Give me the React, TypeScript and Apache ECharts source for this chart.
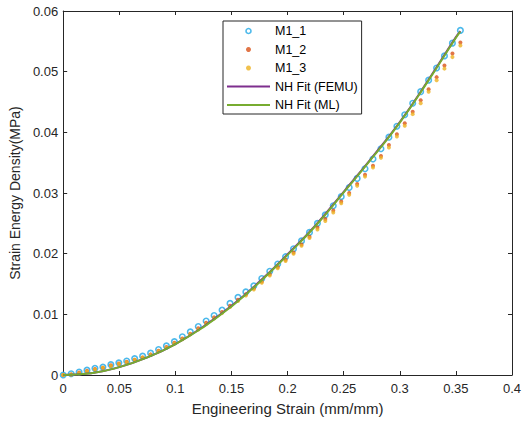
import React, { useEffect, useRef } from "react";
import * as echarts from "echarts";

const strain = [
  0.0, 0.0071, 0.0142, 0.0212, 0.0283, 0.0354, 0.0425, 0.0496, 0.0566, 0.0637,
  0.0708, 0.0779, 0.085, 0.092, 0.0991, 0.1062, 0.1133, 0.1204, 0.1274, 0.1345,
  0.1416, 0.1487, 0.1558, 0.1628, 0.1699, 0.177, 0.1841, 0.1912, 0.1982, 0.2053,
  0.2124, 0.2195, 0.2266, 0.2336, 0.2407, 0.2478, 0.2549, 0.262, 0.269, 0.2761,
  0.2832, 0.2903, 0.2974, 0.3044, 0.3115, 0.3186, 0.3257, 0.3328, 0.3398, 0.3469,
  0.354,
];

const m1_1 = [
  0.0, 0.0002, 0.0005, 0.0008, 0.0011, 0.0013, 0.0017, 0.002, 0.0023, 0.0027,
  0.0031, 0.0036, 0.0042, 0.0048, 0.0055, 0.0063, 0.0071, 0.008, 0.0089, 0.0098,
  0.0107, 0.0118, 0.0128, 0.0137, 0.0147, 0.0159, 0.0171, 0.0183, 0.0195, 0.0208,
  0.0221, 0.0235, 0.025, 0.0264, 0.0279, 0.0294, 0.0309, 0.0324, 0.034, 0.0356,
  0.0373, 0.0392, 0.041, 0.0429, 0.0448, 0.0467, 0.0486, 0.0506, 0.0526, 0.0547,
  0.0568,
];

const m1_2 = [
  0.0, 0.0001, 0.0004, 0.0007, 0.001, 0.0012, 0.0016, 0.0019, 0.0022, 0.0025,
  0.0029, 0.0034, 0.004, 0.0046, 0.0053, 0.006, 0.0068, 0.0077, 0.0086, 0.0095,
  0.0104, 0.0114, 0.0124, 0.0133, 0.0143, 0.0154, 0.0166, 0.0178, 0.019, 0.0202,
  0.0215, 0.0228, 0.0243, 0.0257, 0.0271, 0.0286, 0.03, 0.0315, 0.033, 0.0345,
  0.0361, 0.0379, 0.0397, 0.0415, 0.0434, 0.0453, 0.0471, 0.0491, 0.051, 0.053,
  0.0548,
];

const m1_3 = [
  0.0, 0.0001, 0.0003, 0.0006, 0.0009, 0.0012, 0.0015, 0.0018, 0.0021, 0.0025,
  0.0029, 0.0033, 0.0039, 0.0045, 0.0052, 0.0059, 0.0067, 0.0075, 0.0084, 0.0093,
  0.0102, 0.0112, 0.0122, 0.0131, 0.0141, 0.0152, 0.0164, 0.0176, 0.0188, 0.02,
  0.0213, 0.0226, 0.024, 0.0254, 0.0268, 0.0283, 0.0297, 0.0312, 0.0327, 0.0342,
  0.0358, 0.0375, 0.0393, 0.0411, 0.043, 0.0448, 0.0467, 0.0486, 0.0505, 0.0524,
  0.0543,
];

const fitStrain = [
  0.0, 0.025, 0.05, 0.075, 0.1, 0.125, 0.15, 0.175, 0.2, 0.225, 0.25, 0.275,
  0.3, 0.325, 0.35, 0.354,
];
const fitFEMU = [
  0.0, 0.0003, 0.0013, 0.0029, 0.0051, 0.008, 0.0114, 0.0154, 0.0199, 0.0247,
  0.0302, 0.0358, 0.0417, 0.0485, 0.0557, 0.0567,
];
const fitML = [
  0.0, 0.0003, 0.0013, 0.0029, 0.0051, 0.0079, 0.0113, 0.0153, 0.0198, 0.0246,
  0.0301, 0.0357, 0.0416, 0.0484, 0.0556, 0.0566,
];

const xTicks = { min: 0, max: 0.4, interval: 0.05 };
const yTicks = { min: 0, max: 0.06, interval: 0.01 };

const seriesNames = ["M1_1", "M1_2", "M1_3", "NH Fit (FEMU)", "NH Fit (ML)"];
const xTitle = "Engineering Strain (mm/mm)";
const yTitle = "Strain Energy Density(MPa)";

const C_BLUE = "#1FA8E6";
const C_RED = "#D95319";
const C_YEL = "#EDB120";
const C_PUR = "#7E2F8E";
const C_GRN = "#77AC30";
const AXIS = "#262626";
const FONT = "'Liberation Sans', Arial, Helvetica, sans-serif";
const LINE_ICON = "path://M0,0 L45,0 L45,2 L0,2 Z";

function pairs(xs: number[], ys: number[]) {
  return xs.map((x, i) => [x, ys[i]]);
}

export default function App() {
  const ref = useRef<HTMLDivElement>(null);
  useEffect(() => {
    if (!ref.current) return;
    const chart = echarts.init(ref.current, null, { renderer: "svg" });
    const axisCommon = {
      axisLine: { show: true, onZero: false, lineStyle: { color: AXIS, width: 1 } },
      axisTick: { show: true, inside: true, length: 4, lineStyle: { color: AXIS } },
      splitLine: { show: false },
    };
    chart.setOption({
      animation: false,
      backgroundColor: "#fff",
      textStyle: { fontFamily: FONT },
      grid: { left: 62, right: 18, top: 11, bottom: 50, containLabel: false },
      legend: {
        orient: "vertical",
        left: 223,
        top: 21,
        itemWidth: 43,
        itemHeight: 5,
        itemGap: 3.5,
        padding: [2.5, 4, 1.5, 4],
        borderColor: AXIS,
        borderWidth: 1,
        backgroundColor: "#fff",
        textStyle: { fontSize: 12.5, color: "#000", fontFamily: FONT, lineHeight: 15 },
        data: [
          { name: seriesNames[0], icon: "circle", itemStyle: { color: "#fff", borderColor: C_BLUE, borderWidth: 1.6 } },
          { name: seriesNames[1], icon: "circle", itemStyle: { color: C_RED } },
          { name: seriesNames[2], icon: "circle", itemStyle: { color: C_YEL } },
          { name: seriesNames[3], icon: LINE_ICON, itemStyle: { color: C_PUR, borderWidth: 0 } },
          { name: seriesNames[4], icon: LINE_ICON, itemStyle: { color: C_GRN, borderWidth: 0 } },
        ],
      },
      xAxis: [
        {
          type: "value",
          ...xTicks,
          ...axisCommon,
          name: xTitle,
          nameLocation: "middle",
          nameGap: 26,
          nameTextStyle: { fontSize: 15, color: AXIS, fontFamily: FONT },
          axisLabel: { fontSize: 13, color: AXIS, margin: 7, fontFamily: FONT },
        },
        {
          type: "value",
          position: "top",
          ...xTicks,
          ...axisCommon,
          axisLabel: { show: false },
        },
      ],
      yAxis: [
        {
          type: "value",
          ...yTicks,
          ...axisCommon,
          name: yTitle,
          nameLocation: "middle",
          nameGap: 38,
          nameTextStyle: { fontSize: 14, color: AXIS, fontFamily: FONT },
          axisLabel: { fontSize: 13, color: AXIS, margin: 5, fontFamily: FONT },
        },
        {
          type: "value",
          position: "right",
          ...yTicks,
          ...axisCommon,
          axisLabel: { show: false },
        },
      ],
      series: [
        {
          name: seriesNames[0],
          type: "scatter",
          data: pairs(strain, m1_1),
          symbol: "circle",
          symbolSize: 5.5,
          itemStyle: { color: "#fff", borderColor: C_BLUE, borderWidth: 1.6 },
          z: 2,
        },
        {
          name: seriesNames[1],
          type: "scatter",
          data: pairs(strain, m1_2),
          symbol: "circle",
          symbolSize: 4,
          itemStyle: { color: C_RED },
          z: 2,
        },
        {
          name: seriesNames[2],
          type: "scatter",
          data: pairs(strain, m1_3),
          symbol: "circle",
          symbolSize: 4,
          itemStyle: { color: C_YEL },
          z: 2,
        },
        {
          name: seriesNames[3],
          type: "line",
          data: pairs(fitStrain, fitFEMU),
          symbol: "none",
          smooth: true,
          lineStyle: { color: C_PUR, width: 2 },
          itemStyle: { color: C_PUR },
          z: 3,
        },
        {
          name: seriesNames[4],
          type: "line",
          data: pairs(fitStrain, fitML),
          symbol: "none",
          smooth: true,
          lineStyle: { color: C_GRN, width: 2 },
          itemStyle: { color: C_GRN },
          z: 4,
        },
      ],
    });
    return () => chart.dispose();
  }, []);
  return (
    <div
      ref={ref}
      style={{ position: "fixed", left: 0, top: 0, width: 530, height: 425 }}
    />
  );
}
